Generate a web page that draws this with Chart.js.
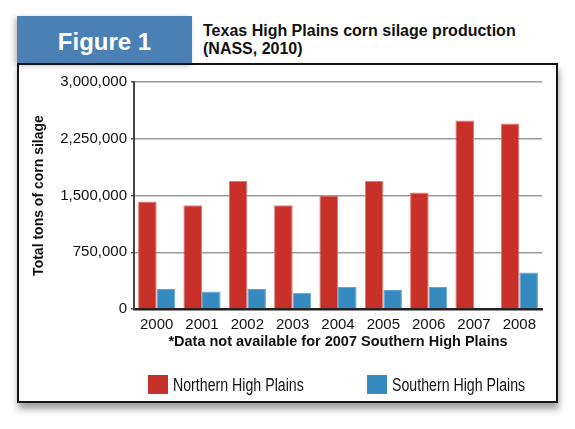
<!DOCTYPE html>
<html>
<head>
<meta charset="utf-8">
<script src="https://cdn.jsdelivr.net/npm/chart.js@4.4.1/dist/chart.umd.min.js"></script>
<style>
  html, body { margin: 0; padding: 0; background: #fff; }
  body { width: 575px; height: 429px; position: relative; overflow: hidden;
         font-family: "Liberation Sans", Arial, sans-serif; color: #111; }
  .frame { position: absolute; left: 17px; top: 63px; width: 541px; height: 340px;
           box-sizing: border-box; border: 2px solid #151515; background: #fff;
           box-shadow: 1px 6px 7px rgba(0,0,0,0.38); }
  .tab { position: absolute; left: 17px; top: 16px; width: 175px; height: 47px;
         background: #4a80b3; color: #fff; box-shadow: -2px 2px 6px rgba(0,0,0,0.3);
         font-weight: bold; font-size: 24px; text-align: center; line-height: 51px; }
  .title { position: absolute; left: 203px; top: 22px; font-weight: bold; font-size: 16px;
           line-height: 18.3px; white-space: nowrap; }
  canvas { position: absolute; left: 0; top: 0; }
  .key { position: absolute; top: 375px; width: 20px; height: 19px; }
  .keytext { position: absolute; top: 375px; font-size: 17.5px; line-height: 20px; white-space: nowrap;
             transform: scaleX(0.81); transform-origin: left center; }
</style>
</head>
<body>
<div class="frame"></div>
<div class="tab">Figure 1</div>
<div class="title">Texas High Plains corn silage production<br>(NASS, 2010)</div>
<canvas id="chart" width="575" height="429"></canvas>
<div class="key" style="left:148px; background:#c8302a"></div>
<div class="keytext" style="left:173px">Northern High Plains</div>
<div class="key" style="left:367px; background:#358abf"></div>
<div class="keytext" style="left:392px">Southern High Plains</div>
<script>
const years = ["2000", "2001", "2002", "2003", "2004", "2005", "2006", "2007", "2008"];
const northern = [1420000, 1370000, 1690000, 1370000, 1500000, 1690000, 1540000, 2490000, 2450000];
const southern = [265000, 230000, 265000, 216000, 291000, 252000, 291000, null, 481000];
const yTicks = [0, 750000, 1500000, 2250000, 3000000];

const fam = '"Liberation Sans", Arial, sans-serif';

new Chart(document.getElementById("chart"), {
  type: "bar",
  data: {
    labels: years,
    datasets: [
      {
        label: "Northern High Plains",
        data: northern,
        backgroundColor: "#c8302a",
        borderColor: "#e27a70",
        borderWidth: 1
      },
      {
        label: "Southern High Plains",
        data: southern,
        backgroundColor: "#358abf",
        borderColor: "#5fa6d2",
        borderWidth: 1
      }
    ]
  },
  options: {
    responsive: false,
    animation: false,
    layout: { padding: { left: 26, right: 33, top: 82, bottom: 78.6 } },
    plugins: {
      legend: { display: false },
      tooltip: { enabled: false }
    },
    datasets: { bar: { categoryPercentage: 0.82, barPercentage: 1.0 } },
    scales: {
      x: {
        grid: { display: false, drawTicks: false },
        border: { color: "#222", width: 2.5 },
        ticks: { color: "#111", padding: 7, font: { family: fam, size: 15 } },
        title: {
          display: true,
          text: "*Data not available for 2007 Southern High Plains",
          color: "#111",
          padding: { top: -8, bottom: 0 },
          font: { family: fam, size: 14.5, weight: "bold" }
        }
      },
      y: {
        min: 0,
        max: 3000000,
        afterFit: s => { s.width = 108; },
        afterBuildTicks: s => { s.ticks = yTicks.map(v => ({ value: v })); },
        grid: { color: "#9a9a9a", lineWidth: 1.5, tickLength: 3, tickColor: "#555" },
        border: { color: "#444", width: 2 },
        ticks: {
          color: "#111",
          padding: 4,
          font: { family: fam, size: 15 },
          callback: v => v.toLocaleString("en-US")
        },
        title: {
          display: true,
          text: "Total tons of corn silage",
          color: "#111",
          padding: { top: 5, bottom: 4 },
          font: { family: fam, size: 14, weight: "bold" }
        }
      }
    }
  }
});
</script>
</body>
</html>
